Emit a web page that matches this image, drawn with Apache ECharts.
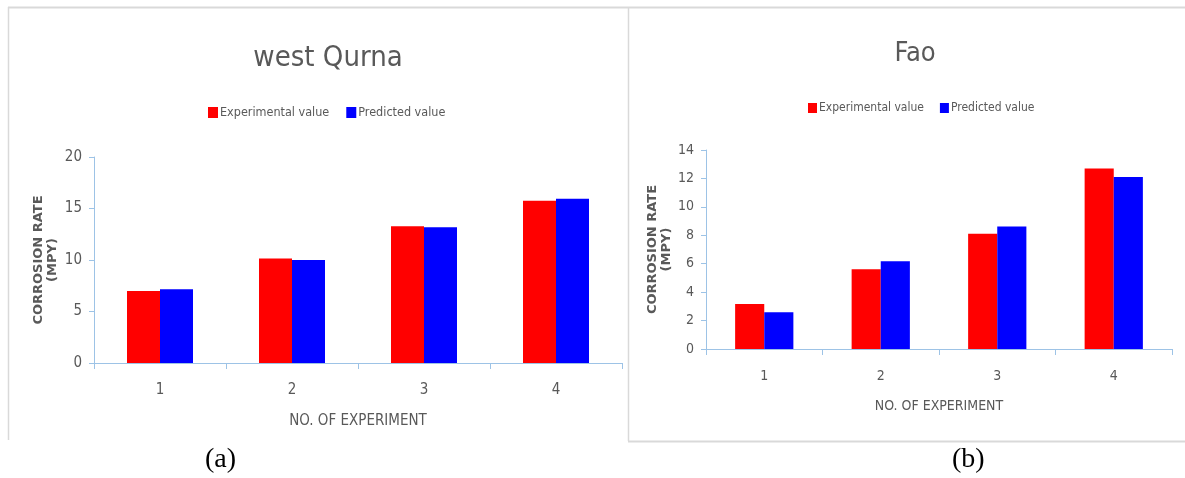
<!DOCTYPE html>
<html lang="en" style="height: 100%">
<head>
  <meta charset="utf-8" />
  <title>Corrosion rate: west Qurna / Fao</title>
</head>
<body style="height: 100%; margin: 0; background: #fff">
  <div id="container" style="width: 1185px; height: 478px"></div>

  <script src="https://cdn.jsdelivr.net/npm/echarts@6/dist/echarts.min.js"></script>

  <script>
    // data
    const experiments = ['1', '2', '3', '4'];
    const seriesNames = ['Experimental value', 'Predicted value'];

    // (a) west Qurna
    const qurnaExperimental = [7.0, 10.15, 13.27, 15.75];
    const qurnaPredicted = [7.15, 10.0, 13.18, 15.94];

    // (b) Fao
    const faoExperimental = [3.17, 5.61, 8.1, 12.7];
    const faoPredicted = [2.58, 6.17, 8.62, 12.1];

    const narrow = '"Liberation Sans Narrow", "DejaVu Sans Condensed", sans-serif';
    const grey = '#595959';
    const axisBlue = '#9dc3e6';
    const frameGrey = '#d9d9d9';

    function xAxisFor(gridIndex, size, gap) {
      return {
        type: 'category',
        gridIndex: gridIndex,
        data: experiments,
        name: 'NO. OF EXPERIMENT',
        nameLocation: 'middle',
        nameGap: gap,
        nameTextStyle: { fontFamily: narrow, fontSize: size, color: grey },
        axisLine: { lineStyle: { color: axisBlue, width: 1 } },
        axisTick: { show: true, length: 6, lineStyle: { color: axisBlue } },
        axisLabel: { fontFamily: narrow, fontSize: size, color: grey, margin: 20 }
      };
    }

    function yAxisFor(gridIndex, max, step, size, gap) {
      return {
        type: 'value',
        gridIndex: gridIndex,
        min: 0,
        max: max,
        interval: step,
        name: 'CORROSION RATE\n(MPY)',
        nameLocation: 'middle',
        nameGap: gap,
        nameTextStyle: {
          fontFamily: 'DejaVu Sans, sans-serif',
          fontSize: 13,
          fontWeight: 'bold',
          color: grey,
          lineHeight: 14,
          align: 'center'
        },
        splitLine: { show: false },
        axisLine: { show: true, lineStyle: { color: axisBlue, width: 1 } },
        axisTick: { show: true, length: 5, lineStyle: { color: axisBlue } },
        axisLabel: { fontFamily: narrow, fontSize: size, color: grey, margin: 12 }
      };
    }

    function barsFor(gridIndex, values, name, colour) {
      return {
        name: name,
        type: 'bar',
        xAxisIndex: gridIndex,
        yAxisIndex: gridIndex,
        data: values,
        barGap: '0%',
        barCategoryGap: '50%',
        itemStyle: { color: colour },
        animation: false
      };
    }

    var dom = document.getElementById('container');
    var myChart = echarts.init(dom);

    var option = {
      backgroundColor: '#fff',
      title: [
        {
          text: 'west Qurna',
          left: 323, top: 39,
          textAlign: 'center',
          textStyle: { fontFamily: narrow, fontSize: 29, fontWeight: 'normal', color: grey }
        },
        {
          text: 'Fao',
          left: 910, top: 35,
          textAlign: 'center',
          textStyle: { fontFamily: narrow, fontSize: 27, fontWeight: 'normal', color: grey }
        }
      ],
      legend: [
        {
          data: seriesNames,
          left: 208, top: 106,
          padding: 0,
          itemWidth: 10, itemHeight: 11, itemGap: 17,
          icon: 'rect',
          textStyle: { fontFamily: narrow, fontSize: 12.5, color: grey, padding: [0, 0, 0, -3] }
        },
        {
          data: seriesNames,
          left: 808, top: 102,
          padding: 0,
          itemWidth: 9, itemHeight: 10, itemGap: 16,
          icon: 'rect',
          textStyle: { fontFamily: narrow, fontSize: 12, color: grey, padding: [0, 0, 0, -3] }
        }
      ],
      grid: [
        { left: 94, top: 157, width: 528, height: 206 },
        { left: 706, top: 150, width: 466, height: 199 }
      ],
      xAxis: [xAxisFor(0, 15, 51), xAxisFor(1, 14, 50)],
      yAxis: [yAxisFor(0, 20, 5, 15, 34), yAxisFor(1, 14, 2, 14, 28)],
      series: [
        barsFor(0, qurnaExperimental, seriesNames[0], '#ff0000'),
        barsFor(0, qurnaPredicted, seriesNames[1], '#0000ff'),
        barsFor(1, faoExperimental, seriesNames[0], '#ff0000'),
        barsFor(1, faoPredicted, seriesNames[1], '#0000ff')
      ],
      graphic: [
        // chart frames
        { type: 'line', shape: { x1: 8, y1: 7.5, x2: 1185, y2: 7.5 }, style: { stroke: frameGrey, lineWidth: 2 } },
        { type: 'line', shape: { x1: 8.5, y1: 7, x2: 8.5, y2: 440 }, style: { stroke: frameGrey, lineWidth: 1.5 } },
        { type: 'line', shape: { x1: 628.5, y1: 7, x2: 628.5, y2: 441 }, style: { stroke: frameGrey, lineWidth: 1.5 } },
        { type: 'line', shape: { x1: 628, y1: 441.5, x2: 1185, y2: 441.5 }, style: { stroke: frameGrey, lineWidth: 2 } },
        // captions
        {
          type: 'text', left: 205, top: 446,
          style: { text: '(a)', font: '28px "Liberation Serif", serif', fill: '#000' }
        },
        {
          type: 'text', left: 952, top: 446,
          style: { text: '(b)', font: '28px "Liberation Serif", serif', fill: '#000' }
        }
      ]
    };

    myChart.setOption(option);

    window.onresize = function () {
      myChart.resize();
    };
  </script>
</body>
</html>
